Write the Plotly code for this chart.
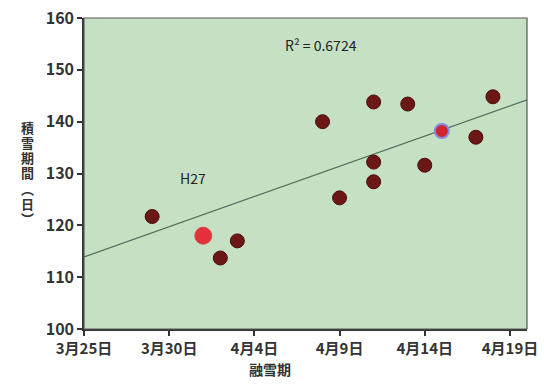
import plotly.graph_objects as go
import pandas as pd

# Data
dates = ["2015-03-29", "2015-04-02", "2015-04-03", "2015-04-08", "2015-04-09",
         "2015-04-11", "2015-04-11", "2015-04-11", "2015-04-13", "2015-04-14",
         "2015-04-17", "2015-04-18"]
days = [121.7, 113.7, 117.0, 140.0, 125.3, 143.8, 132.2, 128.4, 143.4, 131.6, 137.0, 144.8]

h27_date = ["2015-04-01"]
h27_days = [118.0]

latest_date = ["2015-04-15"]
latest_days = [138.2]

trend_dates = ["2015-03-25", "2015-04-20"]
trend_days = [113.9, 144.2]

tick_dates = ["2015-03-25", "2015-03-30", "2015-04-04", "2015-04-09", "2015-04-14", "2015-04-19"]
tick_text = ["3月25日", "3月30日", "4月4日", "4月9日", "4月14日", "4月19日"]

y_title_chars = ["積", "雪", "期", "間", "︵", "日", "︶"]

FONT = "Noto Sans CJK JP"
TXT = "#333333"

W, H = 544, 385
l, r, t, b = 84, 17, 18, 56
pw, ph = W - l - r, H - t - b
def px(xp): return (xp - l) / pw
def py(yp): return (H - b - yp) / ph

fig = go.Figure()
fig.add_trace(go.Scatter(x=pd.to_datetime(trend_dates), y=trend_days, mode="lines",
                         line=dict(color="#4f6b5c", width=1.2), hoverinfo="skip"))
fig.add_trace(go.Scatter(x=pd.to_datetime(dates), y=days, mode="markers",
                         marker=dict(size=14, color="#6b1716", line=dict(color="#4a0e0e", width=1))))
fig.add_trace(go.Scatter(x=pd.to_datetime(h27_date), y=h27_days, mode="markers",
                         marker=dict(size=17, color="#e5303a", line=dict(color="#d8474c", width=1))))
fig.add_trace(go.Scatter(x=pd.to_datetime(latest_date), y=latest_days, mode="markers",
                         marker=dict(size=14, color="#d0262e", line=dict(color="#7f8fdc", width=2))))

def ann(text, xp, yp, size=14, color=TXT, family=FONT):
    return dict(text=text, xref="paper", yref="paper", x=px(xp), y=py(yp),
                xanchor="center", yanchor="middle", showarrow=False,
                font=dict(family=family, size=size, color=color))

annotations = [
    ann("R² = 0.6724", 321, 45, 14, "#222222"),
    ann("H27", 193, 178, 14, "#222222"),
    ann("<b>融雪期</b>", 270, 369, 14),
]
for i, ch in enumerate(y_title_chars):
    annotations.append(ann("<b>" + ch + "</b>", 27, 128 + i * 15.3, 13, TXT,
                           "Liberation Sans, Noto Sans CJK JP"))

fig.update_layout(
    width=W, height=H,
    margin=dict(l=l, r=r, t=t, b=b, autoexpand=False),
    paper_bgcolor="white", plot_bgcolor="#c6e0c4",
    showlegend=False,
    font=dict(family=FONT, size=14, color=TXT),
    xaxis=dict(type="date", range=["2015-03-25", "2015-04-20"],
               tickvals=pd.to_datetime(tick_dates), ticktext=tick_text,
               ticks="outside", ticklen=5, tickcolor=TXT, tickwidth=1.5,
               showgrid=False, zeroline=False, automargin=False,
               showline=True, linecolor=TXT, linewidth=1.5,
               tickfont=dict(family=FONT, size=15, color=TXT, weight="bold")),
    yaxis=dict(range=[100, 160], dtick=10,
               ticks="outside", ticklen=5, tickcolor=TXT, tickwidth=1.5,
               showgrid=False, zeroline=False, automargin=False,
               showline=True, linecolor=TXT, linewidth=1.5,
               tickfont=dict(family=FONT, size=16, color=TXT, weight="bold")),
    shapes=[dict(type="rect", xref="paper", yref="paper", x0=0, x1=1, y0=0, y1=1,
                 line=dict(color="#555555", width=1.2), layer="above")],
    annotations=annotations,
)

fig.write_html("out.html", config={"displayModeBar": False},
               post_script="document.body.style.margin='0';")
